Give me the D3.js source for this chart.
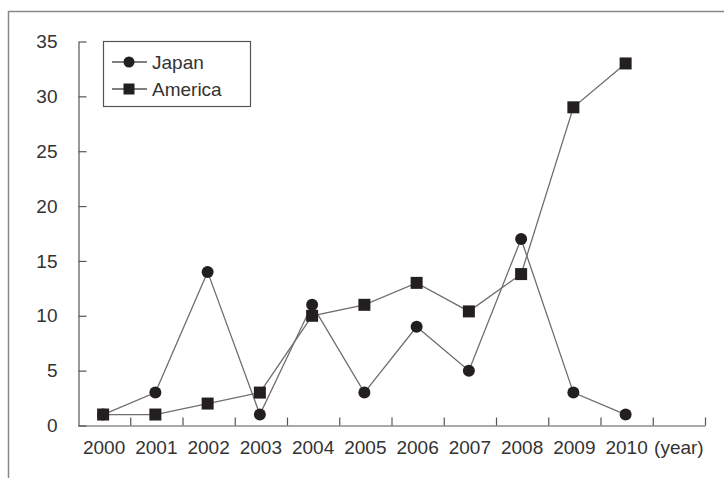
<!DOCTYPE html>
<html>
<head>
<meta charset="utf-8">
<script src="https://cdn.jsdelivr.net/npm/d3@7"></script>
<style>
  body { margin: 0; background: #fff; }
  svg text { font-family: "Liberation Sans", Arial, sans-serif; fill: #333; }
</style>
</head>
<body>
<div id="chart"></div>
<script>
// Data
const years = ['2000', '2001', '2002', '2003', '2004', '2005', '2006', '2007', '2008', '2009', '2010'];
const japan = [1, 3, 14, 1, 11, 3, 9, 5, 17, 3, 1];
const america = [1, 1, 2, 3, 10, 11, 13, 10.4, 13.8, 29, 33];
const yTicks = [0, 5, 10, 15, 20, 25, 30, 35];
const unitLabel = '(year)';

const width = 724, height = 478;
const svg = d3.select('#chart').append('svg')
  .attr('width', width)
  .attr('height', height);

// Frame (only top and left edges are visible in the crop)
svg.append('path')
  .attr('d', `M8.5,${height} V11.5 H${width}`)
  .attr('fill', 'none')
  .attr('stroke', '#888')
  .attr('stroke-width', 1.5);

const x = d3.scaleBand()
  .domain(years.concat([unitLabel]))
  .range([78, 705]);

const y = d3.scaleLinear()
  .domain([0, 35])
  .range([425.5, 41.5]);

const cx = d => x(d) + x.bandwidth() / 2 - 1;

// Y axis, ticks pointing inward
const yAxis = svg.append('g')
  .attr('transform', 'translate(78.5,0)')
  .call(d3.axisLeft(y).tickValues(yTicks).tickSizeInner(-8).tickSizeOuter(0).tickPadding(21));
yAxis.selectAll('path, line').attr('stroke', '#555').attr('stroke-width', 1.2);
yAxis.selectAll('text').style('font-size', '19px');

// X axis: labels centred in bands, ticks on band boundaries
const xAxis = svg.append('g')
  .attr('transform', 'translate(0,425.5)')
  .call(d3.axisBottom(x).tickSize(0).tickPadding(15));
xAxis.select('.domain').attr('stroke', '#555').attr('stroke-width', 1.2);
xAxis.selectAll('text').style('font-size', '19px');

xAxis.selectAll('.boundary')
  .data(x.domain())
  .enter().append('line')
  .attr('class', 'boundary')
  .attr('x1', d => x(d) + x.step() + 0.5)
  .attr('x2', d => x(d) + x.step() + 0.5)
  .attr('y1', 0)
  .attr('y2', -8)
  .attr('stroke', '#555')
  .attr('stroke-width', 1.2);

// Series
const line = d3.line()
  .x((d, i) => cx(years[i]))
  .y(d => y(d));

const series = [
  { name: 'Japan', values: japan, shape: 'circle' },
  { name: 'America', values: america, shape: 'square' }
];

series.forEach(s => {
  svg.append('path')
    .datum(s.values)
    .attr('fill', 'none')
    .attr('stroke', '#6e6e6e')
    .attr('stroke-width', 1.3)
    .attr('d', line);
});

const markerColor = '#231f20';

function drawMarker(g, shape, px, py, size) {
  if (shape === 'circle') {
    g.append('circle')
      .attr('cx', px).attr('cy', py).attr('r', size / 2)
      .attr('fill', markerColor);
  } else {
    g.append('rect')
      .attr('x', px - size / 2).attr('y', py - size / 2)
      .attr('width', size).attr('height', size)
      .attr('fill', markerColor);
  }
}

series.forEach(s => {
  const g = svg.append('g');
  s.values.forEach((v, i) => drawMarker(g, s.shape, cx(years[i]), y(v), 12));
});

// Legend
const legend = svg.append('g');
legend.append('rect')
  .attr('x', 103.5).attr('y', 41.5)
  .attr('width', 147).attr('height', 65)
  .attr('fill', '#fff')
  .attr('stroke', '#555')
  .attr('stroke-width', 1.2);

series.forEach((s, i) => {
  const ly = 62 + i * 27;
  legend.append('line')
    .attr('x1', 112).attr('x2', 147)
    .attr('y1', ly).attr('y2', ly)
    .attr('stroke', '#555')
    .attr('stroke-width', 1.3);
  drawMarker(legend, s.shape, 129, ly, 11);
  legend.append('text')
    .attr('x', 152)
    .attr('y', ly)
    .attr('dy', '0.35em')
    .style('font-size', '19px')
    .text(s.name);
});
</script>
</body>
</html>
